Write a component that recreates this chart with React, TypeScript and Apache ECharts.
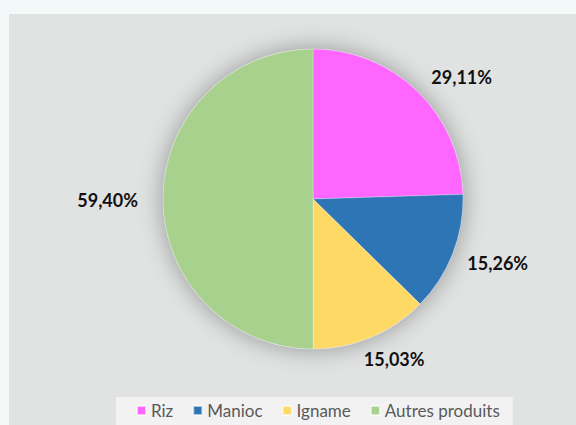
import React, { useEffect, useRef } from "react";
import * as echarts from "echarts";

const categories = ["Riz", "Manioc", "Igname", "Autres produits"];
const values = [29.11, 15.26, 15.03, 59.4];
const colors = ["#ff66ff", "#2e75b6", "#ffd966", "#a9d18e"];

export default function App() {
  const ref = useRef<HTMLDivElement>(null);
  useEffect(() => {
    const chart = echarts.init(ref.current!, null, { renderer: "svg" });
    chart.setOption({
      animation: false,
      backgroundColor: "#f3f8f8",
      graphic: [
        {
          type: "rect",
          z: -10,
          shape: { x: 9, y: 14, width: 580, height: 420 },
          style: { fill: "#e1e3e3" },
        },
      ],
      legend: {
        data: categories,
        left: 116,
        bottom: -12,
        backgroundColor: "#f2f2f2",
        padding: [5, 13, 18, 20],
        itemWidth: 9,
        itemHeight: 9,
        itemGap: 19,
        icon: "rect",
        textStyle: { fontFamily: "Lato", fontSize: 17, color: "#595959", padding: [1, 0, 0, 0] },
      },
      series: [
        {
          type: "pie",
          silent: true,
          center: [313, 199],
          radius: 150,
          data: [{ value: 1, name: "_shadow" }],
          label: { show: false },
          labelLine: { show: false },
          itemStyle: { color: "#d0d2d2", shadowBlur: 24, shadowColor: "rgba(0,0,0,0.35)" },
          z: 1,
        },
        {
          type: "pie",
          center: [313, 199],
          radius: 150,
          startAngle: 90,
          clockwise: true,
          avoidLabelOverlap: false,
          data: categories.map((c, i) => ({ name: c, value: values[i], itemStyle: { color: colors[i] } })),
          itemStyle: { borderColor: "rgba(255,255,255,0.6)", borderWidth: 0.5 },
          label: {
            show: true,
            position: "outside",
            formatter: (p: any) => p.value.toFixed(2).replace(".", ",") + "%",
            fontFamily: "Lato",
            fontWeight: "bold",
            fontSize: 18,
            color: "#111",
            distanceToLabelLine: 0,
          },
          labelLine: { show: false, length: 20, length2: 0 },
          labelLayout: (p: any) => {
            if (p.seriesIndex !== 1) return {};
            if (p.dataIndex === 2) return { dx: -15, dy: 3 };
            if (p.dataIndex === 3) return { dx: -5, dy: 1 };
            if (p.dataIndex === 1) return { dx: -4, dy: 2 };
            return {};
          },
          z: 2,
        },
      ],
    });
    return () => chart.dispose();
  }, []);
  return (
    <div
      ref={ref}
      style={{ position: "absolute", left: 0, top: 0, width: 576, height: 425 }}
    />
  );
}
